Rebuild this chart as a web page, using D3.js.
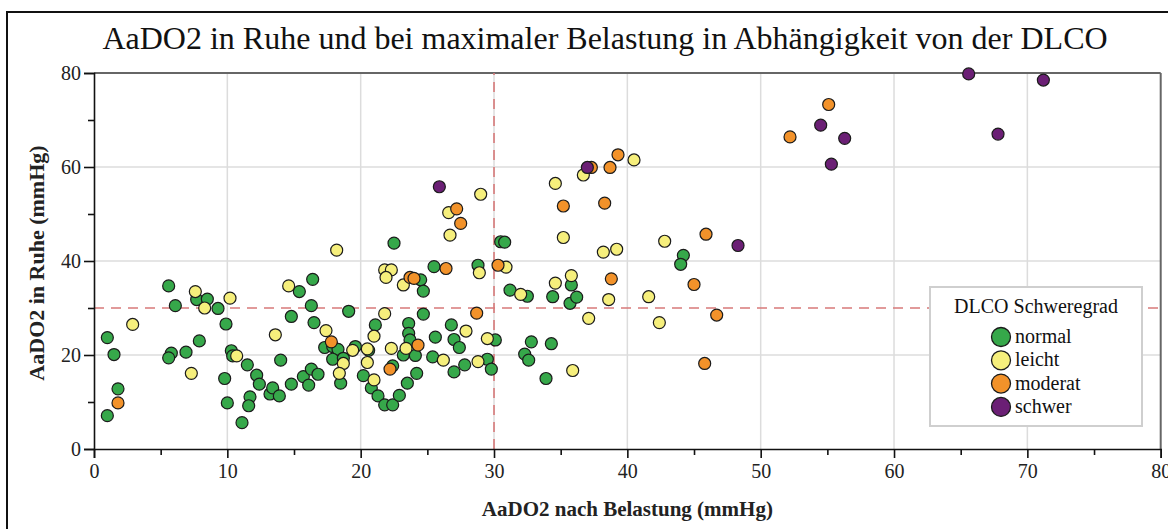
<!DOCTYPE html>
<html>
<head>
<meta charset="utf-8">
<script src="https://cdn.jsdelivr.net/npm/d3@7"></script>
<style>
  body { margin: 0; background: #fff; }
  svg { display: block; font-family: "Liberation Serif", "DejaVu Serif", serif; }
</style>
</head>
<body>
<div id="chart"></div>
<script>
// DATA: [AaDO2 nach Belastung, AaDO2 in Ruhe] per DLCO group
const categories = ["normal", "leicht", "moderat", "schwer"];

const normal = [
  [1.0, 7.1], [1.0, 23.7], [1.5, 20.1], [1.8, 12.8], [5.6, 34.7], [5.8, 20.4], [5.6, 19.4],
  [6.1, 30.5], [6.9, 20.6], [7.7, 31.8], [7.9, 23.0], [8.5, 31.9], [9.3, 29.9], [9.9, 26.6],
  [9.8, 15.0], [10.0, 9.8], [10.3, 20.9], [10.4, 19.8], [11.1, 5.6], [11.5, 17.9], [11.7, 11.1],
  [11.6, 9.2], [12.2, 15.7], [12.4, 13.8], [13.2, 11.7], [13.4, 13.0], [13.9, 11.3], [14.0, 18.9],
  [14.8, 13.8], [14.8, 28.2], [15.4, 33.5], [15.7, 15.4], [16.1, 13.6], [16.3, 17.0], [16.8, 15.9],
  [16.3, 30.5], [16.4, 36.1], [16.5, 26.9], [17.3, 21.6], [17.9, 21.8], [18.3, 21.2], [17.9, 19.1],
  [18.7, 19.3], [18.5, 14.0], [19.1, 29.3], [19.6, 21.8], [20.6, 21.0], [20.2, 15.6], [20.8, 13.0],
  [21.1, 26.4], [21.3, 11.3], [21.8, 9.4], [22.4, 9.4], [22.9, 11.4], [22.5, 43.8], [22.4, 17.7],
  [23.2, 20.0], [23.5, 14.0], [24.2, 16.1], [23.6, 26.7], [23.6, 24.6], [23.7, 23.2], [24.1, 19.9],
  [24.5, 36.0], [24.7, 33.6], [24.7, 28.7], [25.5, 38.8], [25.4, 19.6], [25.6, 23.8], [26.8, 26.4],
  [27.0, 23.3], [27.4, 21.6], [27.0, 16.4], [27.8, 17.9], [28.8, 39.1], [29.5, 19.1], [29.8, 17.0],
  [30.1, 23.2], [30.5, 44.1], [30.8, 44.0], [31.2, 33.8], [32.5, 32.5], [32.8, 22.8], [32.3, 20.2],
  [32.6, 18.9], [33.9, 15.0], [34.3, 22.4], [34.4, 32.4], [35.8, 34.9], [35.7, 31.0], [36.2, 32.3],
  [44.2, 41.2], [44.0, 39.3]
];

const leicht = [
  [2.9, 26.5], [7.6, 33.5], [8.3, 30.0], [10.2, 32.1], [7.3, 16.1], [10.7, 19.8], [13.6, 24.3],
  [14.6, 34.7], [17.4, 25.2], [18.2, 42.3], [18.7, 18.2], [18.4, 16.1], [19.4, 21.0], [20.5, 21.3],
  [20.5, 18.4], [21.0, 24.0], [21.0, 14.7], [21.8, 28.8], [21.8, 38.1], [22.3, 38.1], [21.9, 36.5],
  [22.3, 21.4], [23.2, 34.9], [23.4, 21.4], [26.6, 50.3], [26.7, 45.5], [29.0, 54.2], [28.9, 37.5],
  [27.9, 25.1], [29.5, 23.5], [26.2, 18.9], [28.8, 18.6], [30.9, 38.7], [32.0, 32.9], [34.6, 35.3],
  [34.6, 56.5], [35.2, 45.0], [36.7, 58.3], [40.5, 61.5], [38.2, 41.9], [39.2, 42.5], [42.8, 44.2],
  [35.8, 36.9], [38.6, 31.8], [41.6, 32.4], [37.1, 27.8], [42.4, 26.9], [35.9, 16.7]
];

const moderat = [
  [1.8, 9.8], [17.8, 22.8], [22.2, 17.0], [23.7, 36.5], [24.0, 36.3], [24.3, 22.1], [26.4, 38.4],
  [27.2, 51.1], [27.5, 48.0], [28.7, 28.9], [30.3, 39.1], [35.2, 51.7], [37.3, 59.9], [38.7, 59.9],
  [39.3, 62.6], [38.3, 52.3], [38.8, 36.2], [45.0, 35.0], [45.9, 45.7], [46.7, 28.5], [45.8, 18.2],
  [52.2, 66.4], [55.1, 73.3]
];

const schwer = [
  [25.9, 55.8], [37.0, 59.9], [48.3, 43.3], [54.5, 68.9], [56.3, 66.1], [55.3, 60.6],
  [65.6, 79.8], [67.8, 67.0], [71.2, 78.5]
];

const xTicks = [0, 10, 20, 30, 40, 50, 60, 70, 80];
const yTicks = [0, 20, 40, 60, 80];
const xMinor = [5, 15, 25, 35, 45, 55, 65, 75];
const yMinor = [10, 30, 50, 70];
const refX = 30, refY = 30;

const groups = { normal: normal, leicht: leicht, moderat: moderat, schwer: schwer };

const W = 1168, H = 529;
const margin = { top: 73, right: 8, bottom: 80, left: 94 };
const width = 1160.7 - margin.left;
const height = 449 - margin.top;

const svg = d3.select("#chart")
    .append("svg")
    .attr("width", W)
    .attr("height", H);

// outer frame
svg.append("rect")
    .attr("x", 7).attr("y", 12)
    .attr("width", W + 10).attr("height", H + 10)
    .attr("fill", "none")
    .attr("stroke", "#111")
    .attr("stroke-width", 2);

// TITLE
svg.append("text")
    .attr("x", 605)
    .attr("y", 49)
    .attr("text-anchor", "middle")
    .attr("font-size", "32px")
    .attr("fill", "#111")
    .text("AaDO2 in Ruhe und bei maximaler Belastung in Abhängigkeit von der DLCO");

const g = svg.append("g")
    .attr("transform", `translate(${margin.left},${margin.top})`);

const x = d3.scaleLinear().domain([0, 80]).range([0, width]);
const y = d3.scaleLinear().domain([0, 80]).range([height, 0]);

const color = d3.scaleOrdinal()
    .domain(categories)
    .range(["#36a84a", "#f6ef7c", "#f2922a", "#6b1f75"]);

// GRID
g.selectAll("line.gx")
    .data(xTicks.filter(d => d > 0 && d < 80))
    .enter().append("line")
    .attr("x1", d => x(d)).attr("x2", d => x(d))
    .attr("y1", 0).attr("y2", height)
    .attr("stroke", "#dcdcdc").attr("stroke-width", 1.5);

g.selectAll("line.gy")
    .data(yTicks.filter(d => d > 0 && d < 80))
    .enter().append("line")
    .attr("x1", 0).attr("x2", width)
    .attr("y1", d => y(d)).attr("y2", d => y(d))
    .attr("stroke", "#dcdcdc").attr("stroke-width", 1.5);

// plot frame top / right
g.append("line")
    .attr("x1", 0).attr("x2", width).attr("y1", 0).attr("y2", 0)
    .attr("stroke", "#666").attr("stroke-width", 2);
g.append("line")
    .attr("x1", width).attr("x2", width).attr("y1", 0).attr("y2", height)
    .attr("stroke", "#666").attr("stroke-width", 2);

// REFERENCE LINES
g.append("line")
    .attr("x1", x(refX)).attr("x2", x(refX))
    .attr("y1", y(0)).attr("y2", y(80))
    .attr("stroke", "#d77a7a").attr("stroke-width", 1.6)
    .attr("stroke-dasharray", "10,7");
g.append("line")
    .attr("x1", x(0)).attr("x2", x(80))
    .attr("y1", y(refY)).attr("y2", y(refY))
    .attr("stroke", "#d77a7a").attr("stroke-width", 1.6)
    .attr("stroke-dasharray", "10,7");

// X AXIS
g.append("g")
    .attr("transform", `translate(0,${height})`)
    .call(d3.axisBottom(x).tickValues(xTicks).tickSize(9).tickPadding(6).tickFormat(d3.format("d")));
g.append("g")
    .attr("transform", `translate(0,${height})`)
    .call(d3.axisBottom(x).tickValues(xMinor).tickSize(6).tickFormat(""))
    .select(".domain").remove();

// Y AXIS
g.append("g")
    .call(d3.axisLeft(y).tickValues(yTicks).tickSize(10).tickPadding(3).tickFormat(d3.format("d")));
g.append("g")
    .call(d3.axisLeft(y).tickValues(yMinor).tickSize(6).tickFormat(""))
    .select(".domain").remove();

g.selectAll(".tick text")
    .attr("font-family", "Liberation Serif, serif")
    .attr("font-size", "20px")
    .attr("fill", "#222");
g.selectAll(".domain, .tick line")
    .attr("stroke", "#111")
    .attr("stroke-width", 1.6);

// AXIS LABELS
svg.append("text")
    .attr("x", margin.left + width / 2)
    .attr("y", 516)
    .attr("text-anchor", "middle")
    .attr("font-size", "21px")
    .attr("font-weight", "bold")
    .attr("fill", "#222")
    .text("AaDO2 nach Belastung (mmHg)");

svg.append("text")
    .attr("transform", "rotate(-90)")
    .attr("x", -263)
    .attr("y", 44)
    .attr("text-anchor", "middle")
    .attr("font-size", "22px")
    .attr("font-weight", "bold")
    .attr("fill", "#222")
    .text("AaDO2 in Ruhe (mmHg)");

// POINTS
categories.forEach(c => {
    g.append("g")
        .selectAll("circle")
        .data(groups[c])
        .enter()
        .append("circle")
        .attr("cx", d => x(d[0]))
        .attr("cy", d => y(d[1]))
        .attr("r", 6)
        .attr("fill", color(c))
        .attr("stroke", "#1b1b1b")
        .attr("stroke-width", 1.2);
});

// LEGEND
const legend = svg.append("g").attr("transform", "translate(930,287)");
legend.append("rect")
    .attr("width", 212)
    .attr("height", 139)
    .attr("fill", "#fff")
    .attr("stroke", "#cfcfcf")
    .attr("stroke-width", 2);
legend.append("text")
    .attr("x", 106)
    .attr("y", 26)
    .attr("text-anchor", "middle")
    .attr("font-size", "20px")
    .attr("fill", "#111")
    .text("DLCO Schweregrad");

const item = legend.selectAll(".item")
    .data(categories)
    .enter()
    .append("g")
    .attr("transform", (d, i) => `translate(71,${50 + i * 23.3})`);
item.append("circle")
    .attr("r", 9.5)
    .attr("fill", d => color(d))
    .attr("stroke", "#1b1b1b")
    .attr("stroke-width", 1.3);
item.append("text")
    .attr("x", 14)
    .attr("y", 6)
    .attr("font-size", "20px")
    .attr("fill", "#111")
    .text(d => d);
</script>
</body>
</html>
